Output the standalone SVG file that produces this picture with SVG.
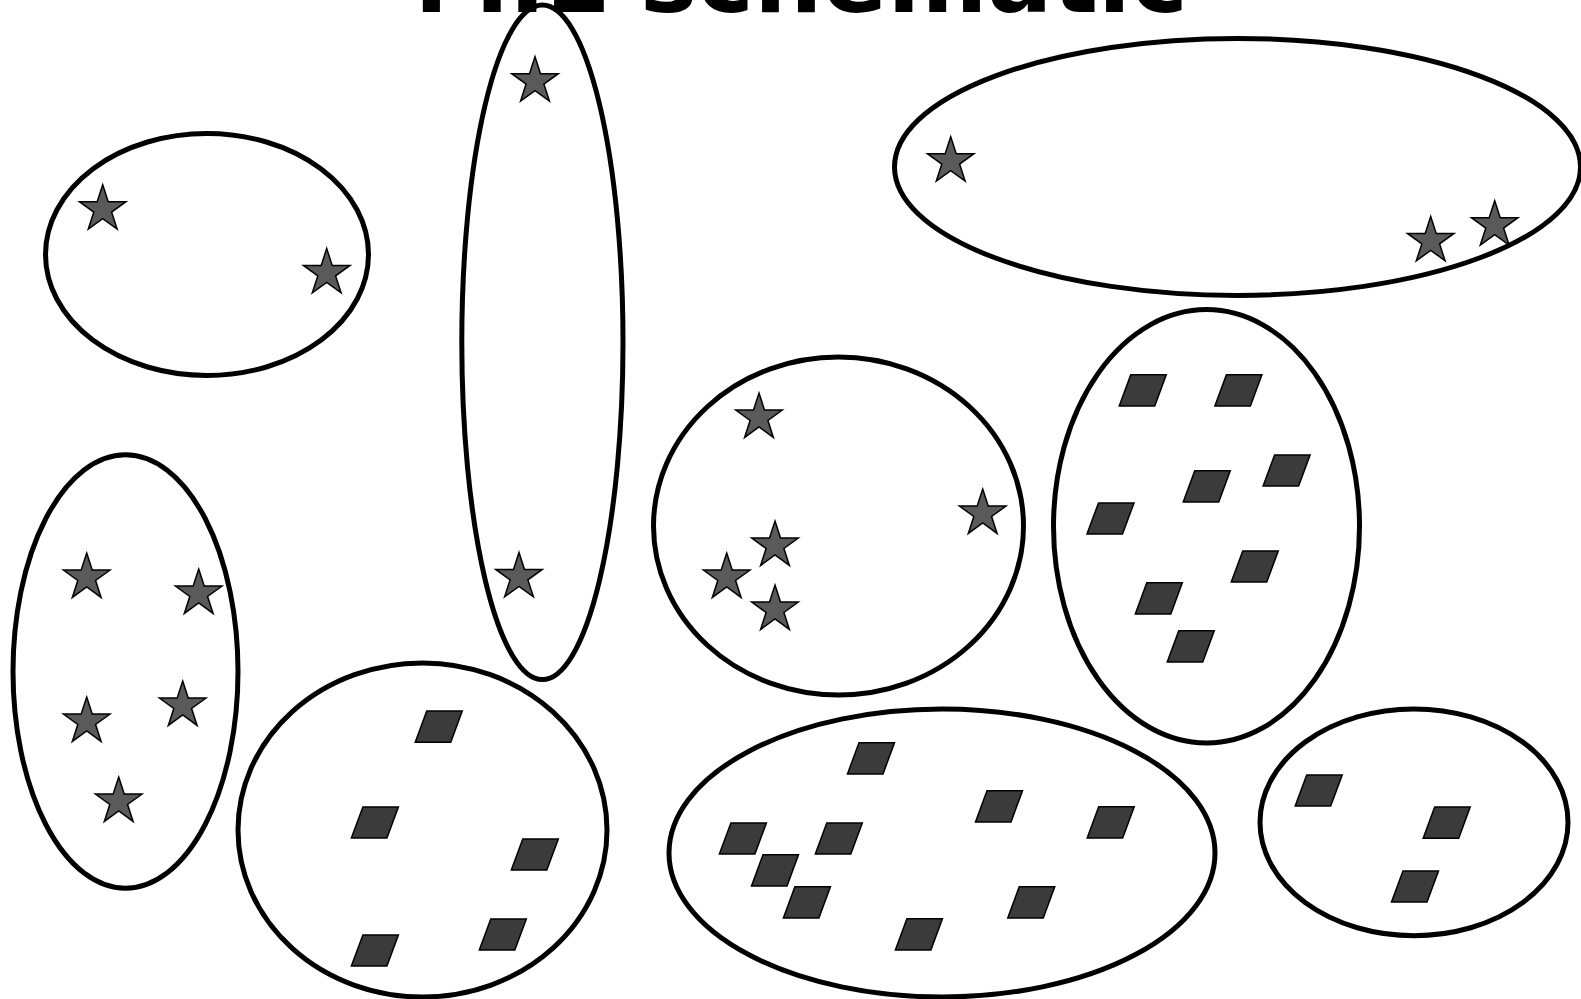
<svg xmlns="http://www.w3.org/2000/svg" xmlns:xlink="http://www.w3.org/1999/xlink" width="1581" height="999" viewBox="0 0 1581 999">
<style>
.bag{fill:none;stroke:#000;stroke-width:5}
.star{fill:#5a5a5a;stroke:#000;stroke-width:1.5;stroke-linejoin:miter}
.para{fill:#3b3b3b;stroke:#000;stroke-width:1.5}
.title{font-family:"DejaVu Sans",sans-serif;font-weight:bold;font-size:96px;fill:#000}
</style>
<defs>
<path id="s" class="star" d="M0,-24.5 L5.5,-7.57 L23.3,-7.57 L8.9,2.89 L14.4,19.82 L0,9.36 L-14.4,19.82 L-8.9,2.89 L-23.3,-7.57 L-5.5,-7.57 Z"/>
<path id="p" class="para" d="M-12,-15.6 H23.5 L12,15.6 H-23.5 Z"/>
</defs>
<rect width="1581" height="999" fill="#fff"/>
<text class="title" x="801" y="12" text-anchor="middle">MIL schematic</text>
<g id="bag1">
<ellipse class="bag" cx="207" cy="254.5" rx="161.5" ry="121"/>
<use href="#s" x="102.7" y="209.2"/><use href="#s" x="326.7" y="273"/>
</g>
<g id="bag2">
<ellipse class="bag" cx="542.4" cy="342.3" rx="80.6" ry="337.3"/>
<use href="#s" x="535" y="81.2"/><use href="#s" x="519" y="577"/>
</g>
<g id="bag3">
<ellipse class="bag" cx="1237.5" cy="166.9" rx="343" ry="128.5"/>
<use href="#s" x="950.7" y="161.2"/><use href="#s" x="1430.7" y="241"/><use href="#s" x="1494.7" y="225.2"/>
</g>
<g id="bag4">
<ellipse class="bag" cx="125.5" cy="671.5" rx="112.5" ry="216.7"/>
<use href="#s" x="86.7" y="577.6"/><use href="#s" x="198.7" y="593.6"/><use href="#s" x="86.7" y="721.6"/><use href="#s" x="182.7" y="705.6"/><use href="#s" x="118.7" y="801.6"/>
</g>
<g id="bag5">
<ellipse class="bag" cx="838.5" cy="526" rx="185" ry="169"/>
<use href="#s" x="759" y="417.6"/><use href="#s" x="982.7" y="513.6"/><use href="#s" x="775" y="545.6"/><use href="#s" x="726.7" y="577.6"/><use href="#s" x="775" y="609.6"/>
</g>
<g id="bag6">
<ellipse class="bag" cx="1206.5" cy="526.3" rx="153" ry="216.7"/>
<use href="#p" x="1142.75" y="390.3"/><use href="#p" x="1238.4" y="390.3"/><use href="#p" x="1286.6" y="470.5"/><use href="#p" x="1206.75" y="486.3"/><use href="#p" x="1110.5" y="518.5"/><use href="#p" x="1254.75" y="566.5"/><use href="#p" x="1158.8" y="598.3"/><use href="#p" x="1190.75" y="646.3"/>
</g>
<g id="bag7">
<ellipse class="bag" cx="422.5" cy="830" rx="184.5" ry="167"/>
<use href="#p" x="438.75" y="726.7"/><use href="#p" x="374.9" y="822.5"/><use href="#p" x="534.8" y="854.5"/><use href="#p" x="502.8" y="934.5"/><use href="#p" x="374.9" y="950.5"/>
</g>
<g id="bag8">
<ellipse class="bag" cx="942" cy="853" rx="273" ry="144"/>
<use href="#p" x="871" y="758.3"/><use href="#p" x="999" y="806.3"/><use href="#p" x="1110.7" y="822.3"/><use href="#p" x="742.9" y="838.5"/><use href="#p" x="838.8" y="838.5"/><use href="#p" x="775" y="870.3"/><use href="#p" x="806.9" y="902.3"/><use href="#p" x="1031.25" y="902.3"/><use href="#p" x="918.9" y="934.3"/>
</g>
<g id="bag9">
<ellipse class="bag" cx="1414" cy="822.3" rx="154" ry="113.4"/>
<use href="#p" x="1318.7" y="790.5"/><use href="#p" x="1446.7" y="822.7"/><use href="#p" x="1415" y="886.5"/>
</g>
</svg>
